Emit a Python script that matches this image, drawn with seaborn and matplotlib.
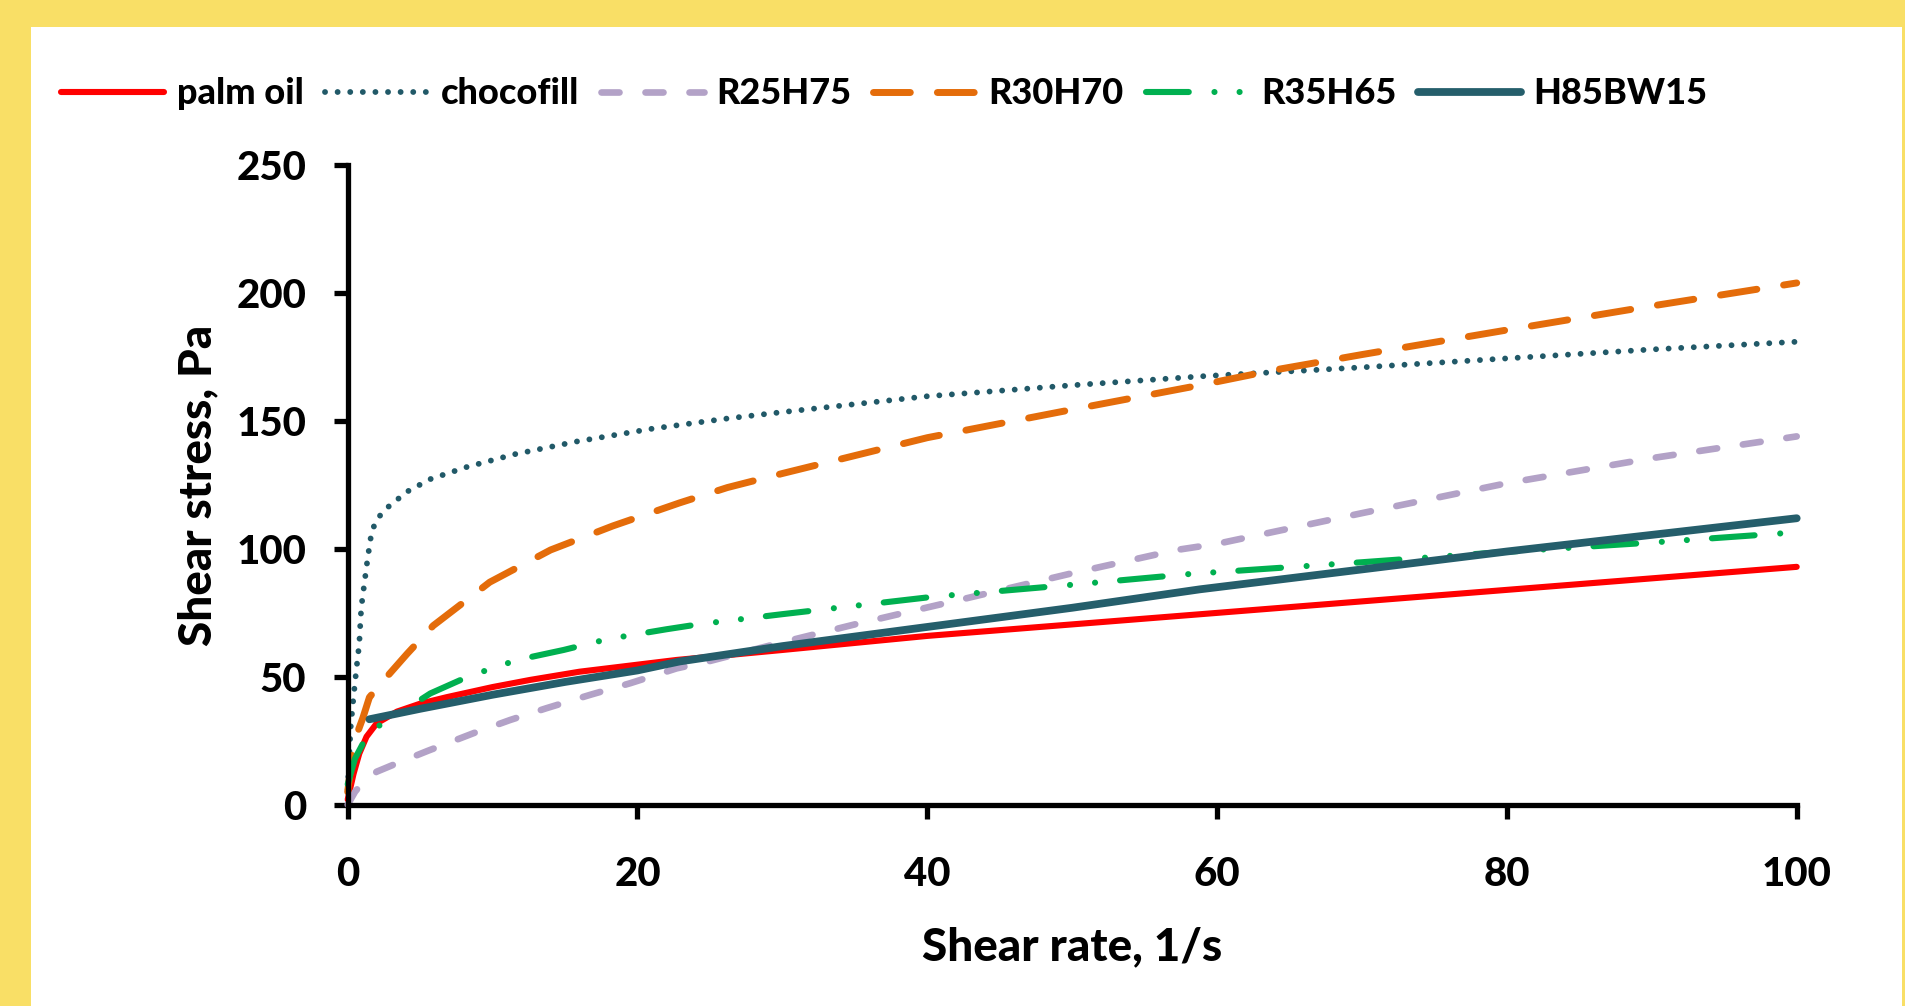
import matplotlib
matplotlib.use("Agg")
import matplotlib.pyplot as plt
import seaborn as sns
import pandas as pd
from matplotlib.patches import Rectangle

# ---------------- data ----------------
series_names = ["palm oil", "chocofill", "R25H75", "R30H70", "R35H65", "H85BW15"]

palm_x = [0, 0.4, 0.8, 1.3, 2, 3.4, 5, 6.8, 10, 12.6, 16, 22.7, 30, 40, 50, 60, 70, 80, 90, 100]
palm_y = [2, 12, 20, 26.6, 31.8, 36.4, 39.5, 42, 46, 48.8, 52, 56.6, 60.5, 66, 70.5, 75, 79.5, 84, 88.5, 93]

choco_x = [0, 0.2, 0.4, 0.6, 0.8, 0.9, 1.0, 1.38, 1.66, 2.07, 2.7, 4.1, 5.7, 8.2, 11.5, 15.8,
           21, 26.2, 30, 40, 50, 59.2, 70, 80, 90, 100]
choco_y = [6, 30, 42, 53, 63, 74, 80, 96.5, 107, 112, 116, 122.4, 127.3, 132, 137, 142,
           147, 151, 153.5, 159.7, 164, 167.6, 171, 174.5, 178, 181]

r25_x = [0, 0.5, 1, 2, 3.4, 5.5, 8.7, 11.2, 13.7, 16.7, 19.5, 22.7, 24.8, 30, 35, 42.7,
         50, 57.2, 60, 70, 80, 90, 100]
r25_y = [0, 5, 8.5, 12.9, 16.2, 21, 28, 33.1, 37.7, 42.9, 47.5, 53.3, 55.9, 63.5, 70.5, 80.7,
         90.5, 99.6, 102, 114, 125.7, 135.5, 144]

r30_x = [0, 0.4, 1.05, 1.5, 2.7, 4.1, 5.9, 8.2, 9.8, 14, 18.3, 22.9, 26.2, 30, 40, 50,
         58.8, 64, 70, 80, 90, 100]
r30_y = [5, 24, 34, 42, 50, 59, 70, 80, 87, 99.6, 109, 118, 124, 129.5, 143.5, 154.5,
         164, 170, 176, 185.6, 195, 204]

r35_x = [0, 0.5, 1.3, 2.6, 4.2, 5.7, 8.4, 11.7, 14.9, 17.9, 22, 24.3, 30, 40.4, 50, 58.1,
         70, 80, 90, 100]
r35_y = [8, 18, 26.6, 33, 38, 43.5, 50.3, 56.6, 60.5, 64.7, 68.6, 70.6, 74.5, 81.3, 86, 90.2,
         94.8, 98.9, 102.5, 106.5]

h85_x = [1.5, 5, 10, 15, 20, 22.9, 30, 40, 50, 58.8, 70, 80, 90, 100]
h85_y = [33.4, 37.5, 43, 48, 52.5, 56, 62, 69.5, 77, 84.2, 92, 99, 105.5, 112]

x_ticks = [0, 20, 40, 60, 80, 100]
y_ticks = [0, 50, 100, 150, 200, 250]
x_label = "Shear rate, 1/s"
y_label = "Shear stress, Pa"

# ---------------- styles ----------------
colors = ["#FF0000", "#215968", "#B3A2C7", "#E46C0A", "#00B050", "#255E6B"]
widths = [4.4, 4.2, 4.8, 5.0, 4.4, 5.6]
styles = ["-", (0, (0.01, 2.15)), (0, (2.7, 3.9)), (0, (5.3, 3.9)),
          (0, (7.0, 4.2, 0.01, 4.1, 0.01, 4.1)), "-"]
FW = 900

sns.set_style("ticks")
plt.rcParams["font.family"] = ["Lato", "DejaVu Sans"]
plt.rcParams["font.weight"] = FW
plt.rcParams["text.color"] = "black"
plt.rcParams["axes.labelcolor"] = "black"
plt.rcParams["xtick.color"] = "black"
plt.rcParams["ytick.color"] = "black"

fig = plt.figure(figsize=(19.06, 10.06), dpi=100)
fig.patch.set_facecolor("#F9DF66")
fig.patches.append(Rectangle((31 / 1906, 0), (1902 - 31) / 1906, (1006 - 27) / 1006,
                             transform=fig.transFigure, facecolor="white",
                             edgecolor="none", zorder=-10))

ax = fig.add_axes([347.7 / 1906, 1 - 804.7 / 1006, (1796.7 - 347.7) / 1906,
                   (804.7 - 165.3) / 1006])
ax.set_zorder(5)
ax.set_facecolor("none")

all_x = [palm_x, choco_x, r25_x, r30_x, r35_x, h85_x]
all_y = [palm_y, choco_y, r25_y, r30_y, r35_y, h85_y]

for name, xs, ys, c, lw, ls in zip(series_names, all_x, all_y, colors, widths, styles):
    df = pd.DataFrame({"x": xs, "y": ys})
    sns.lineplot(data=df, x="x", y="y", ax=ax, color=c, linewidth=lw, label=name,
                 estimator=None, sort=False, linestyle=ls)
for line in ax.lines:
    line.set_dash_capstyle("round")
    line.set_solid_capstyle("round")
    line.set_clip_on(False)

ax.set_xlim(0, 100)
ax.set_ylim(0, 250)
ax.set_xticks(x_ticks)
ax.set_yticks(y_ticks)
ax.set_xticklabels([str(v) for v in x_ticks])
ax.set_yticklabels([str(v) for v in y_ticks])

for s in ["top", "right"]:
    ax.spines[s].set_visible(False)
for s in ["left", "bottom"]:
    ax.spines[s].set_linewidth(3.8)
    ax.spines[s].set_color("black")
ax.tick_params(axis="both", direction="out", length=10, width=3.8, color="black",
               labelcolor="black", labelsize=29)
ax.tick_params(axis="x", pad=27)
ax.tick_params(axis="y", pad=20)
for lab in ax.get_xticklabels() + ax.get_yticklabels():
    lab.set_fontweight(FW)

ax.set_xlabel(x_label, fontsize=33, fontweight=FW, labelpad=24, color="black")
ax.set_ylabel(y_label, fontsize=33, fontweight=FW, labelpad=12, color="black")

handles, labels = ax.get_legend_handles_labels()
ax.get_legend().remove()
leg = fig.legend(handles, labels, loc="center left", bbox_to_anchor=(61 / 1906, 1 - 94 / 1006),
                 ncol=6, frameon=False, borderaxespad=0, borderpad=0,
                 handlelength=2.85, handletextpad=0.35, columnspacing=0.6,
                 prop={"family": ["Lato", "DejaVu Sans"], "weight": FW, "size": 26})
for t in leg.get_texts():
    t.set_color("black")
for h in leg.get_lines():
    h.set_dash_capstyle("round")
    h.set_solid_capstyle("round")

fig.savefig("out.png", dpi=100, facecolor=fig.get_facecolor())
